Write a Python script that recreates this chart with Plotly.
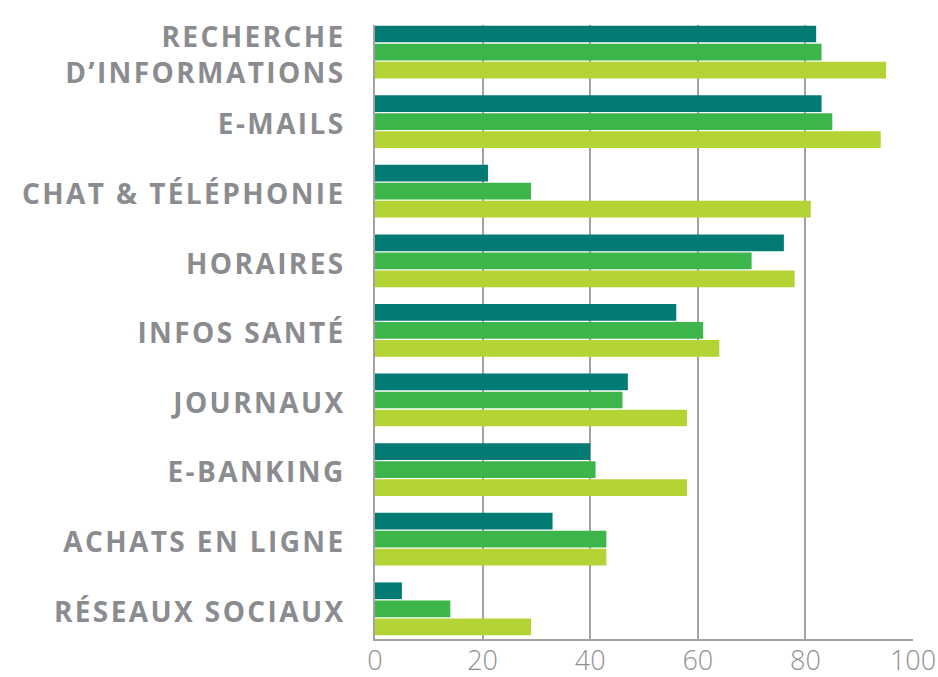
import plotly.graph_objects as go

categories = [
    "RECHERCHE<br>D’INFORMATIONS",
    "E-MAILS",
    "CHAT & TÉLÉPHONIE",
    "HORAIRES",
    "INFOS SANTÉ",
    "JOURNAUX",
    "E-BANKING",
    "ACHATS EN LIGNE",
    "RÉSEAUX SOCIAUX",
]
series_1 = [82, 83, 21, 76, 56, 47, 40, 33, 5]
series_2 = [83, 85, 29, 70, 61, 46, 41, 43, 14]
series_3 = [95, 94, 81, 78, 64, 58, 58, 43, 29]
series_names = ["Série 1", "Série 2", "Série 3"]
colors = ["#027b74", "#3cb54a", "#b4d334"]
x_ticks = [0, 20, 40, 60, 80, 100]

fig = go.Figure()
for name, vals, col in zip(series_names, [series_1, series_2, series_3], colors):
    fig.add_trace(go.Bar(
        y=categories, x=vals, name=name, orientation="h",
        marker=dict(color=col, line=dict(width=0)),
        showlegend=False,
    ))

grey = "#8b8c8f"
fig.update_layout(
    width=938, height=677,
    margin=dict(l=375, r=25, t=25, b=38),
    paper_bgcolor="white", plot_bgcolor="white",
    barmode="group", bargap=0.224, bargroupgap=0.07,
    font=dict(family="Open Sans", color=grey),
)
fig.update_xaxes(
    range=[0, 100], tickvals=x_ticks, ticktext=[str(v) for v in x_ticks],
    showgrid=True, gridcolor="#a3a3a3", gridwidth=1.6,
    showline=True, linecolor="#a3a3a3", linewidth=1.6,
    zeroline=False, ticks="", automargin=False, ticklabelstandoff=-3,
    tickfont=dict(family="Open Sans", size=27, color="#8f9094", weight=300),
)
fig.update_yaxes(
    type="category", categoryorder="array", categoryarray=categories,
    range=[8.434, -0.388],
    showgrid=False, showline=True, linecolor="#a3a3a3", linewidth=1.6,
    zeroline=False, ticks="", ticklabelstandoff=22, ticklabelshift=-3,
    automargin=False,
    tickfont=dict(family="Open Sans", size=28, color=grey, weight="bold"),
)

post = """
document.body.style.margin = '0';
document.body.style.overflow = 'hidden';
var gd = document.getElementById('{plot_id}');
function ls(){ gd.querySelectorAll('.ytick text').forEach(function(t){ t.style.letterSpacing='2.4px'; }); }
ls();
gd.on('plotly_afterplot', ls);
"""
fig.write_html("out.html", post_script=post, config={"displayModeBar": False})
